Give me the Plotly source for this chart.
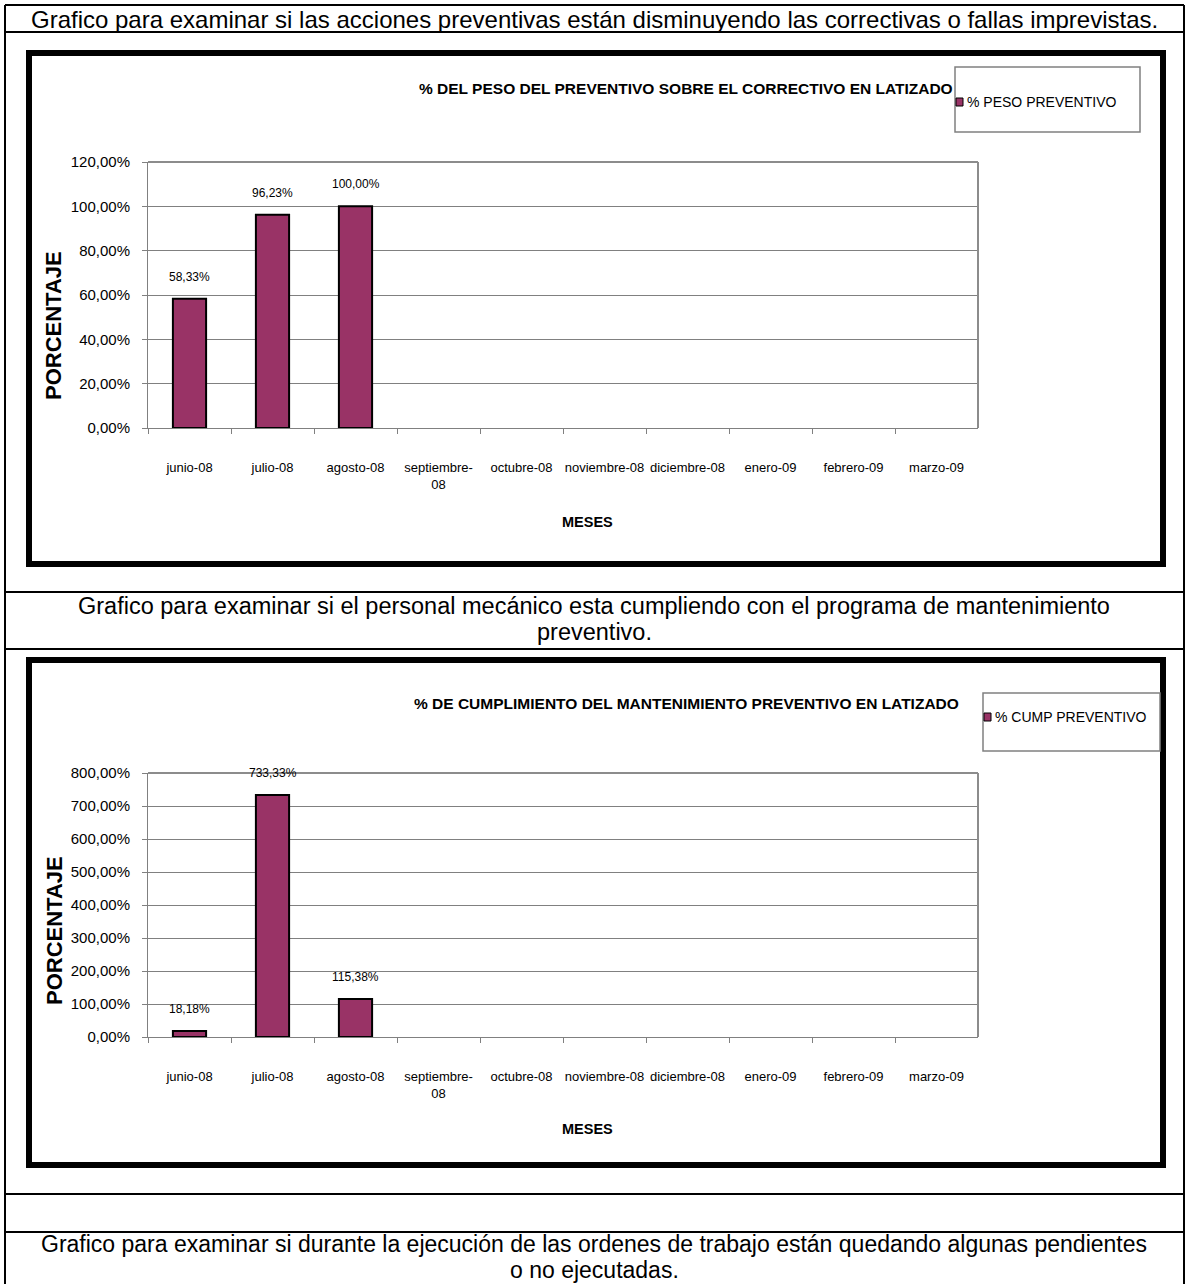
import plotly.graph_objects as go

# ---------------- data ----------------
months = ["junio-08", "julio-08", "agosto-08", "septiembre-08", "octubre-08",
          "noviembre-08", "diciembre-08", "enero-09", "febrero-09", "marzo-09"]
month_labels = ["junio-08", "julio-08", "agosto-08", "septiembre-<br>08", "octubre-08",
                "noviembre-08", "diciembre-08", "enero-09", "febrero-09", "marzo-09"]
peso_preventivo = [58.33, 96.23, 100.00, None, None, None, None, None, None, None]
cump_preventivo = [18.18, 733.33, 115.38, None, None, None, None, None, None, None]
y1_ticks = [0, 20, 40, 60, 80, 100, 120]
y2_ticks = [0, 100, 200, 300, 400, 500, 600, 700, 800]

title1 = "% DEL PESO DEL PREVENTIVO SOBRE EL CORRECTIVO EN LATIZADO"
title2 = "% DE CUMPLIMIENTO DEL MANTENIMIENTO PREVENTIVO EN LATIZADO"
legend1 = "% PESO PREVENTIVO"
legend2 = "% CUMP PREVENTIVO"
caption1 = "Grafico para examinar si las acciones preventivas están disminuyendo las correctivas o fallas imprevistas."
caption2 = ["Grafico para examinar si el personal mecánico esta cumpliendo con el programa de mantenimiento",
            "preventivo."]
caption3 = ["Grafico para examinar si durante la ejecución de las ordenes de trabajo están quedando algunas pendientes",
            "o no ejecutadas."]

# ---------------- helpers ----------------
W, H = 1186, 1284
BAR = "#993366"
FONT = "'Liberation Sans', Arial, Helvetica, sans-serif"


def px(x):
    return x / W


def py(y):
    return 1 - y / H


def pct(v):
    return f"{v:.2f}".replace(".", ",") + "%"


def paper_text(x, y, text, size, bold=False, angle=0, xanchor="center"):
    return dict(x=px(x), y=py(y), xref="paper", yref="paper", showarrow=False,
                xanchor=xanchor, yanchor="middle", textangle=angle,
                text=f"<b>{text}</b>" if bold else text,
                font=dict(family=FONT, size=size, color="black"))


fig = go.Figure()

fig.add_trace(go.Bar(x=months, y=peso_preventivo, xaxis="x", yaxis="y", width=0.4,
                     marker=dict(color=BAR, line=dict(color="black", width=2)),
                     name=legend1, showlegend=False, hoverinfo="skip"))
fig.add_trace(go.Bar(x=months, y=cump_preventivo, xaxis="x2", yaxis="y2", width=0.4,
                     marker=dict(color=BAR, line=dict(color="black", width=2)),
                     name=legend2, showlegend=False, hoverinfo="skip"))

PX0, PX1 = 148, 978
plots = [
    dict(x="x", y="y", top=162, bot=428, ticks=y1_ticks, vals=peso_preventivo),
    dict(x="x2", y="y2", top=773, bot=1037, ticks=y2_ticks, vals=cump_preventivo),
]

ax_common_x = dict(type="category", categoryorder="array", categoryarray=months,
                   tickvals=months, ticktext=month_labels, tickangle=0,
                   showline=True, linecolor="#808080", linewidth=1,
                   ticks="outside", tickson="boundaries", ticklen=5, tickcolor="#808080",
                   showgrid=False, zeroline=False, fixedrange=True, automargin=False,
                   tickfont=dict(family=FONT, size=13, color="black"),
                   ticklabelstandoff=27, range=[-0.5, 9.5])

layout_axes = {}
annotations = []
shapes = []

for i, p in enumerate(plots):
    xk = "xaxis" if i == 0 else "xaxis2"
    yk = "yaxis" if i == 0 else "yaxis2"
    xa = dict(ax_common_x)
    xa["domain"] = [px(PX0), px(PX1)]
    xa["anchor"] = p["y"]
    layout_axes[xk] = xa
    layout_axes[yk] = dict(domain=[py(p["bot"]), py(p["top"])], anchor=p["x"],
                           range=[p["ticks"][0], p["ticks"][-1]],
                           tickvals=p["ticks"], ticktext=[pct(t) for t in p["ticks"]],
                           showgrid=True, gridcolor="#808080", gridwidth=1,
                           showline=True, linecolor="#808080", linewidth=1,
                           ticks="outside", ticklen=5, tickcolor="#808080",
                           zeroline=False, fixedrange=True, automargin=False,
                           ticklabelstandoff=9,
                           tickfont=dict(family=FONT, size=15, color="black"))
    # plot area border (top / right)
    shapes.append(dict(type="line", xref=f"{p['x']} domain", yref=f"{p['y']} domain",
                       x0=0, x1=1, y0=1, y1=1, line=dict(color="#8c8c8c", width=2)))
    shapes.append(dict(type="line", xref=f"{p['x']} domain", yref=f"{p['y']} domain",
                       x0=1, x1=1, y0=0, y1=1, line=dict(color="#8c8c8c", width=2)))
    # data labels
    for m, v in zip(months, p["vals"]):
        if v is not None:
            annotations.append(dict(x=m, y=v, xref=p["x"], yref=p["y"], text=pct(v),
                                    showarrow=False, xanchor="center", yanchor="middle",
                                    yshift=22,
                                    font=dict(family=FONT, size=12, color="black")))

# chart frames (outer edges 26..1166)
for (y0, y1) in [(53, 564), (660, 1165)]:
    shapes.append(dict(type="rect", xref="paper", yref="paper",
                       x0=px(29), x1=px(1163), y0=py(y1), y1=py(y0),
                       line=dict(color="black", width=6), layer="below"))

# table lines
for y in [5, 32, 592, 649, 1194, 1232]:
    shapes.append(dict(type="line", xref="paper", yref="paper", x0=px(5), x1=px(1184),
                       y0=py(y), y1=py(y), line=dict(color="black", width=2)))
for x in [5, 1184]:
    shapes.append(dict(type="line", xref="paper", yref="paper", x0=px(x), x1=px(x),
                       y0=py(5), y1=0, line=dict(color="black", width=2)))

# legend boxes
legends = [dict(box=(955, 67, 1140, 132), ty=102, text=legend1, tx=965),
           dict(box=(983, 693, 1160, 751), ty=717, text=legend2, tx=993)]
for lg in legends:
    x0, y0, x1, y1 = lg["box"]
    shapes.append(dict(type="rect", xref="paper", yref="paper",
                       x0=px(x0), x1=px(x1), y0=py(y1), y1=py(y0),
                       line=dict(color="#808080", width=1.5), fillcolor="white"))
    shapes.append(dict(type="rect", xref="paper", yref="paper",
                       x0=px(lg["tx"] - 9), x1=px(lg["tx"] - 2),
                       y0=py(lg["ty"] + 4), y1=py(lg["ty"] - 4),
                       line=dict(color="black", width=1), fillcolor=BAR))
    annotations.append(paper_text(lg["tx"], lg["ty"], lg["text"], 14, xanchor="left"))

# chart titles, axis titles
for (t, ty) in [(title1, 88), (title2, 703)]:
    annotations.append(paper_text(686, ty, t, 15.5, bold=True))
for cy in [326, 931]:
    annotations.append(paper_text(54, cy, "PORCENTAJE", 22, bold=True, angle=-90))
for my in [522, 1129]:
    annotations.append(paper_text(587, my, "MESES", 14.5, bold=True))

# captions (one annotation per line)
annotations.append(paper_text(594, 19, caption1, 24))
for line, y in zip(caption2, [606, 632]):
    annotations.append(paper_text(594, y, line, 23.5))
for line, y in zip(caption3, [1244, 1270]):
    annotations.append(paper_text(594, y, line, 23))

fig.update_layout(width=W, height=H, autosize=False,
                  margin=dict(l=0, r=0, t=0, b=0, pad=0, autoexpand=False),
                  paper_bgcolor="white", plot_bgcolor="white",
                  showlegend=False, shapes=shapes, annotations=annotations,
                  **layout_axes)

fig.write_html("out.html", config=dict(displayModeBar=False),
               post_script="document.body.style.margin='0px';document.body.style.overflow='hidden';")
